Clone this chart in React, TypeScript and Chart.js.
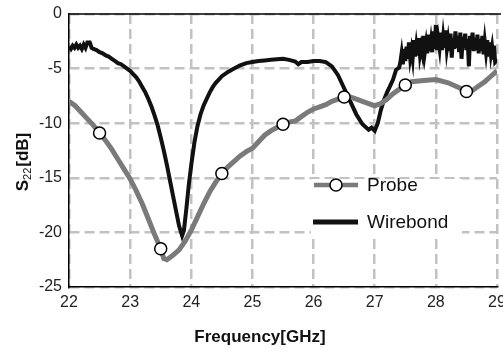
import React, { useEffect, useRef } from "react";
import { Chart, registerables } from "chart.js";

Chart.register(...registerables);

const seriesLabels = ["Probe", "Wirebond"];
const xTitle = "Frequency[GHz]";
const yTitleMain = "S";
const yTitleSub = "22";
const yTitleUnit = "[dB]";

const xMin = 22;
const xMax = 29;
const yMin = -25;
const yMax = 0;

const probeFreq = [
  22.0, 22.1, 22.2, 22.3, 22.4, 22.5, 22.6, 22.7, 22.8, 22.9,
  23.0, 23.1, 23.2, 23.3, 23.4, 23.5, 23.55, 23.6, 23.7, 23.8, 23.9,
  24.0, 24.1, 24.2, 24.3, 24.4, 24.5, 24.6, 24.7, 24.8, 24.9,
  25.0, 25.1, 25.2, 25.3, 25.4, 25.5, 25.6, 25.7, 25.8, 25.9,
  26.0, 26.1, 26.2, 26.3, 26.4, 26.5, 26.6, 26.7, 26.8, 26.9,
  27.0, 27.1, 27.2, 27.3, 27.4, 27.5, 27.6, 27.8, 28.0, 28.2, 28.4,
  28.5, 28.6, 28.7, 28.8, 28.9, 29.0,
];
const probeDb = [
  -8.0, -8.4, -9.0, -9.6, -10.2, -10.9, -11.6, -12.4, -13.3, -14.2,
  -15.1, -16.2, -17.4, -18.8, -20.2, -21.5, -22.4, -22.5, -22.1, -21.6, -20.8,
  -19.8, -18.6, -17.4, -16.3, -15.4, -14.6, -14.0, -13.5, -13.0, -12.6,
  -12.3, -11.7, -11.1, -10.7, -10.4, -10.1, -9.9, -9.8, -9.4, -9.0,
  -8.7, -8.5, -8.3, -8.0, -7.8, -7.6, -7.6, -7.8, -8.0, -8.2,
  -8.4, -8.2, -7.8, -7.3, -6.9, -6.5, -6.2, -6.1, -6.0, -6.3, -6.8,
  -7.1, -7.0, -6.6, -6.2, -5.7, -5.2,
];
const probeMarkerFreq = [22.5, 23.5, 24.5, 25.5, 26.5, 27.5, 28.5];

const wireFreq = [
  22.0, 22.03, 22.06, 22.09, 22.12, 22.15, 22.18, 22.21, 22.24, 22.27, 22.3, 22.34, 22.37,
  22.4, 22.45, 22.5, 22.55, 22.6, 22.65, 22.7, 22.75, 22.8, 22.85, 22.9, 22.95,
  23.0, 23.05, 23.1, 23.15, 23.2, 23.25, 23.3, 23.35, 23.4, 23.45, 23.5, 23.55,
  23.6, 23.65, 23.7, 23.75, 23.8, 23.85, 23.88, 23.92, 23.96,
  24.0, 24.05, 24.1, 24.15, 24.2, 24.25, 24.3, 24.35, 24.4, 24.45, 24.5,
  24.6, 24.7, 24.8, 24.9, 25.0, 25.1, 25.2, 25.3, 25.4, 25.5, 25.6, 25.7, 25.75,
  25.8, 25.9, 26.0, 26.1, 26.2, 26.3, 26.4, 26.5, 26.6, 26.7, 26.8, 26.9, 26.95,
  27.0, 27.05, 27.1, 27.15, 27.2, 27.25, 27.3, 27.35, 27.4,
  27.42, 27.44, 27.46, 27.48, 27.5, 27.52, 27.54, 27.56, 27.58, 27.6,
  27.62, 27.64, 27.66, 27.68, 27.7, 27.72, 27.74, 27.76, 27.78, 27.8,
  27.82, 27.84, 27.86, 27.88, 27.9, 27.92, 27.94, 27.96, 27.98, 28.0,
  28.02, 28.04, 28.06, 28.08, 28.1, 28.12, 28.14, 28.16, 28.18, 28.2,
  28.22, 28.24, 28.26, 28.28, 28.3, 28.32, 28.34, 28.36, 28.38, 28.4,
  28.42, 28.44, 28.46, 28.48, 28.5, 28.52, 28.54, 28.56, 28.58, 28.6,
  28.62, 28.64, 28.66, 28.68, 28.7, 28.72, 28.74, 28.76, 28.78, 28.8,
  28.82, 28.84, 28.86, 28.88, 28.9, 28.92, 28.94, 28.95, 28.97, 29.0,
];
const wireDb = [
  -3.0, -3.2, -2.9, -3.1, -2.8, -3.1, -2.9, -3.2, -2.8, -3.1, -2.6, -2.6, -3.1,
  -3.2, -3.3, -3.5, -3.6, -3.8, -3.9, -4.1, -4.3, -4.5, -4.6, -4.8, -5.0,
  -5.2, -5.5, -5.8, -6.2, -6.7, -7.2, -7.8, -8.5, -9.3, -10.2, -11.3, -12.5,
  -13.8, -15.2, -16.6, -18.0, -19.4, -20.3, -19.8, -17.8, -15.6,
  -13.8, -11.8, -10.3, -9.2, -8.4, -7.8, -7.2, -6.7, -6.3, -6.0, -5.7,
  -5.3, -5.0, -4.7, -4.5, -4.4, -4.3, -4.25, -4.2, -4.15, -4.1, -4.2, -4.35, -4.6,
  -4.4, -4.4, -4.3, -4.3, -4.4, -4.8, -5.6, -6.8, -8.0, -9.2, -10.1, -10.6, -10.4,
  -10.7, -10.0, -8.8, -7.9, -7.2, -6.6, -6.0, -5.1, -4.9,
  -4.4, -3.6, -4.6, -3.2, -4.3, -3.0, -4.1, -2.6, -4.0, -3.3,
  -4.1, -2.4, -3.9, -2.9, -3.8, -2.2, -3.7, -3.0, -3.6, -2.0,
  -3.5, -2.7, -3.6, -1.9, -3.4, -2.5, -3.5, -1.6, -3.2, -1.0,
  -3.3, -2.3, -3.1, -1.7, -3.3, -2.1, -3.1, -1.5, -3.2, -2.4,
  -3.4, -1.8, -4.0, -2.2, -3.2, -1.6, -3.1, -2.0, -3.5, -1.7,
  -4.1, -2.1, -3.1, -1.8, -3.3, -2.3, -4.8, -2.0, -3.2, -1.7,
  -3.4, -2.2, -3.3, -1.9, -3.6, -2.3, -3.4, -2.0, -3.7, -2.5,
  -3.5, -2.4, -3.9, -2.6, -3.7, -3.0, -4.0, -2.9, -4.4, -4.2,
];

const FONT = "'Liberation Sans', Arial, sans-serif";

const decorPlugin = {
  id: "decor",
  beforeDatasetsDraw(chart: any) {
    const { ctx, chartArea: a } = chart;
    ctx.save();
    ctx.strokeStyle = "#000";
    ctx.lineWidth = 1.5;
    ctx.beginPath();
    ctx.moveTo(a.left, a.top);
    ctx.lineTo(a.right + 4, a.top);
    ctx.stroke();
    ctx.restore();
  },
  afterDraw(chart: any) {
    const { ctx } = chart;
    ctx.save();
    // legend
    ctx.fillStyle = "#fff";
    ctx.fillRect(311, 179, 151, 55);
    ctx.lineCap = "butt";
    ctx.strokeStyle = "#7a7a7a";
    ctx.lineWidth = 4.5;
    ctx.beginPath();
    ctx.moveTo(314, 185);
    ctx.lineTo(358, 185);
    ctx.stroke();
    ctx.beginPath();
    ctx.arc(336, 185, 6, 0, Math.PI * 2);
    ctx.fillStyle = "#fff";
    ctx.fill();
    ctx.strokeStyle = "#000";
    ctx.lineWidth = 1.5;
    ctx.stroke();
    ctx.strokeStyle = "#111";
    ctx.lineWidth = 5;
    ctx.beginPath();
    ctx.moveTo(313, 222);
    ctx.lineTo(358, 222);
    ctx.stroke();
    ctx.fillStyle = "#111";
    ctx.font = `19px ${FONT}`;
    ctx.textBaseline = "middle";
    ctx.textAlign = "left";
    ctx.fillText(seriesLabels[0], 367, 186);
    ctx.fillText(seriesLabels[1], 367, 223);

    // x title
    ctx.font = `bold 17px ${FONT}`;
    ctx.textAlign = "center";
    ctx.fillText(xTitle, 260, 337);

    // y title with subscript
    ctx.translate(22, 162);
    ctx.rotate(-Math.PI / 2);
    const mainFont = `bold 17px ${FONT}`;
    const subFont = `11px ${FONT}`;
    ctx.font = mainFont;
    const wS = ctx.measureText(yTitleMain).width;
    const wU = ctx.measureText(yTitleUnit).width;
    ctx.font = subFont;
    const wSub = ctx.measureText(yTitleSub).width;
    const total = wS + wSub + 1 + wU;
    let x = -total / 2;
    ctx.textAlign = "left";
    ctx.textBaseline = "alphabetic";
    ctx.font = mainFont;
    ctx.fillText(yTitleMain, x, 6);
    x += wS;
    ctx.font = subFont;
    ctx.fillText(yTitleSub, x, 9);
    x += wSub + 1;
    ctx.font = mainFont;
    ctx.fillText(yTitleUnit, x, 6);
    ctx.restore();
  },
};

export default function App() {
  const ref = useRef<HTMLCanvasElement>(null);
  useEffect(() => {
    document.body.style.margin = "0";
    const canvas = ref.current!;
    const markerSet = new Set(probeMarkerFreq);
    const chart = new Chart(canvas, {
      type: "line",
      data: {
        datasets: [
          {
            label: seriesLabels[0],
            data: probeFreq.map((f, i) => ({ x: f, y: probeDb[i] })),
            borderColor: "#7a7a7a",
            borderWidth: 5,
            pointRadius: (c: any) => (markerSet.has(c.raw?.x) ? 6 : 0),
            pointBackgroundColor: "#fff",
            pointBorderColor: "#000",
            pointBorderWidth: 1.5,
            tension: 0,
            order: 0,
          },
          {
            label: seriesLabels[1],
            data: wireFreq.map((f, i) => ({ x: f, y: wireDb[i] })),
            borderColor: "#111",
            borderWidth: 4,
            pointRadius: 0,
            tension: 0,
            order: 1,
          },
        ],
      },
      options: {
        responsive: false,
        animation: false,
        events: [],
        layout: { padding: { top: 14, right: 6, left: 0, bottom: 0 } },
        plugins: { legend: { display: false }, tooltip: { enabled: false }, title: { display: false } },
        scales: {
          x: {
            type: "linear",
            min: xMin,
            max: xMax,
            ticks: {
              stepSize: 1,
              padding: 6,
              color: "#222",
              font: { family: FONT, size: 16 },
              maxRotation: 0,
            },
            grid: { color: "#c2c2c2", lineWidth: 2.5, drawTicks: false },
            border: { display: true, color: "#000", width: 1.5, dash: [10, 5] },
            afterFit: (s: any) => {
              s.height = 65;
              s.paddingLeft = 0;
              s.paddingRight = 0;
            },
          },
          y: {
            type: "linear",
            min: yMin,
            max: yMax,
            ticks: {
              stepSize: 5,
              padding: 7,
              color: "#222",
              font: { family: FONT, size: 16 },
            },
            grid: { color: "#c2c2c2", lineWidth: 2.5, drawTicks: false },
            border: { display: true, color: "#000", width: 1.5, dash: [10, 5] },
            afterFit: (s: any) => {
              s.width = 69;
              s.paddingTop = 0;
              s.paddingBottom = 0;
            },
          },
        },
      },
      plugins: [decorPlugin],
    } as any);
    return () => chart.destroy();
  }, []);
  return <canvas ref={ref} width={503} height={352} style={{ display: "block" }} />;
}
